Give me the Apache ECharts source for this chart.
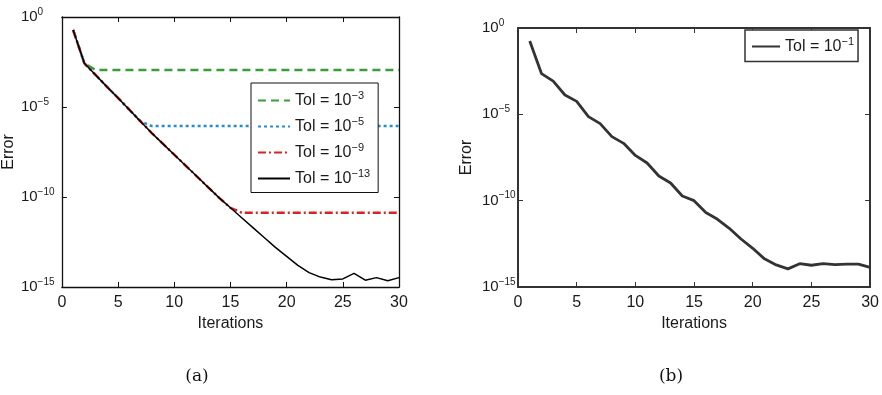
<!DOCTYPE html>
<html>
<head>
<meta charset="utf-8">
<script src="https://cdn.jsdelivr.net/npm/echarts@6/dist/echarts.min.js"></script>
<style>
  html, body { margin: 0; padding: 0; background: #fff; }
  #chart { width: 882px; height: 395px; }
</style>
</head>
<body>
<div id="chart"></div>
<script>
// iteration numbers (x)
const iterations = [1, 2, 3, 4, 5, 6, 7, 8, 9, 10, 11, 12, 13, 14, 15,
  16, 17, 18, 19, 20, 21, 22, 23, 24, 25, 26, 27, 28, 29, 30];

// errors stored as log10(error)
// (a)
const tol3Exp = [-0.72, -2.57, -2.94, -2.94, -2.94, -2.94, -2.94, -2.94, -2.94, -2.94,
  -2.94, -2.94, -2.94, -2.94, -2.94, -2.94, -2.94, -2.94, -2.94, -2.94,
  -2.94, -2.94, -2.94, -2.94, -2.94, -2.94, -2.94, -2.94, -2.94, -2.94];
const tol5Exp = [-0.72, -2.57, -3.22, -3.87, -4.5, -5.15, -5.8, -6.06, -6.06, -6.06,
  -6.06, -6.06, -6.06, -6.06, -6.06, -6.06, -6.06, -6.06, -6.06, -6.06,
  -6.06, -6.06, -6.06, -6.06, -6.06, -6.06, -6.06, -6.06, -6.06, -6.06];
const tol9Exp = [-0.72, -2.57, -3.22, -3.87, -4.5, -5.15, -5.8, -6.45, -7.05, -7.65,
  -8.25, -8.85, -9.45, -10.05, -10.6, -10.87, -10.87, -10.87, -10.87, -10.87,
  -10.87, -10.87, -10.87, -10.87, -10.87, -10.87, -10.87, -10.87, -10.87, -10.87];
const tol13Exp = [-0.72, -2.57, -3.22, -3.87, -4.5, -5.15, -5.8, -6.45, -7.05, -7.65,
  -8.25, -8.85, -9.45, -10.05, -10.6, -11.15, -11.7, -12.25, -12.8, -13.3,
  -13.8, -14.2, -14.45, -14.6, -14.55, -14.24, -14.62, -14.48, -14.65, -14.48];
// (b)
const tol1Exp = [-0.75, -2.64, -3.08, -3.88, -4.25, -5.13, -5.54, -6.29, -6.68, -7.38,
  -7.82, -8.57, -8.98, -9.73, -10.0, -10.69, -11.08, -11.6, -12.22, -12.76,
  -13.37, -13.72, -13.95, -13.65, -13.74, -13.65, -13.7, -13.68, -13.68, -13.86];

const legendExpA = ['\u22123', '\u22125', '\u22129', '\u221213'];
const legendExpB = ['\u22121'];
const yTickExps = [0, -5, -10, -15];

const FONT = '"Liberation Sans", Arial, Helvetica, sans-serif';
const TXT = '#1a1a1a';

const toPoints = exps => iterations.map((it, i) => [it, Math.pow(10, exps[i])]);

const supRich = {
  b: { fontSize: 15, fontFamily: FONT, color: TXT, lineHeight: 20 },
  s: { fontSize: 10, fontFamily: FONT, color: TXT, verticalAlign: 'top' }
};

function yLabel(v) {
  const e = Math.round(Math.log10(v));
  if (yTickExps.indexOf(e) < 0) return '';
  return '{b|10}{s|' + (e < 0 ? '\u2212' + (-e) : String(e)) + '}';
}

function xAxes(grid, color, width) {
  const base = {
    type: 'value', gridIndex: grid, min: 0, max: 30, interval: 5,
    axisLine: { show: true, onZero: false, lineStyle: { color, width } },
    axisTick: { show: true, inside: true, length: 5, lineStyle: { color, width: 1 } },
    splitLine: { show: false }
  };
  return [
    Object.assign({}, base, {
      position: 'bottom',
      axisLabel: { fontSize: 16, fontFamily: FONT, color: TXT, margin: 8 },
      name: 'Iterations', nameLocation: 'middle', nameGap: 23,
      nameTextStyle: { fontSize: 16, fontFamily: FONT, color: TXT }
    }),
    Object.assign({}, base, { position: 'top', axisLabel: { show: false } })
  ];
}

function yAxes(grid, color, width, margin) {
  const base = {
    type: 'log', logBase: 100000, gridIndex: grid, min: 1e-15, max: 1,
    axisLine: { show: true, onZero: false, lineStyle: { color, width } },
    axisTick: { show: true, inside: true, length: 5, lineStyle: { color, width: 1 } },
    minorTick: { show: false },
    splitLine: { show: false }
  };
  return [
    Object.assign({}, base, {
      position: 'left',
      axisLabel: { align: 'left', margin, formatter: yLabel, rich: supRich },
      name: 'Error', nameLocation: 'middle', nameGap: 43, nameRotate: 90,
      nameTextStyle: { fontSize: 16, fontFamily: FONT, color: TXT }
    }),
    Object.assign({}, base, { position: 'right', axisLabel: { show: false } })
  ];
}

const legendRich = {
  b: { fontSize: 16, fontFamily: FONT, color: TXT, lineHeight: 21 },
  s: { fontSize: 11, fontFamily: FONT, color: TXT, verticalAlign: 'top' }
};

const namesA = ['tol3', 'tol5', 'tol9', 'tol13'];
const namesB = ['tol1'];

function line(name, exps, xi, yi, color, width, type) {
  return {
    name, type: 'line', xAxisIndex: xi, yAxisIndex: yi,
    data: toPoints(exps), symbol: 'none', showSymbol: false,
    lineStyle: { color, width, type }, itemStyle: { color },
    emphasis: { disabled: true }, silent: true
  };
}

const chart = echarts.init(document.getElementById('chart'));
chart.setOption({
  animation: false,
  backgroundColor: '#fff',
  grid: [
    { left: 59, top: 17, width: 340, height: 270 },
    { left: 518, top: 28, width: 354, height: 259 }
  ],
  xAxis: xAxes(0, '#111', 1.3).concat(xAxes(1, '#333', 2)),
  yAxis: yAxes(0, '#111', 1.3, 41).concat(yAxes(1, '#333', 2, 36)),
  legend: [
    {
      data: namesA, orient: 'vertical', left: 251, top: 83,
      itemWidth: 32, itemHeight: 12, itemGap: 7.5,
      padding: [7, 8, 6, 6], borderColor: '#111', borderWidth: 1, borderRadius: 0,
      backgroundColor: '#fff', selectedMode: false,
      itemStyle: { opacity: 0 },
      formatter: n => '{b|Tol = 10}{s|' + legendExpA[namesA.indexOf(n)] + '}',
      textStyle: { rich: legendRich }
    },
    {
      data: namesB, orient: 'vertical', left: 745, top: 30,
      itemWidth: 28, itemHeight: 12, itemGap: 5,
      padding: [6, 4, 7, 6], borderColor: '#333', borderWidth: 1.5, borderRadius: 0,
      backgroundColor: '#fff', selectedMode: false,
      itemStyle: { opacity: 0 },
      formatter: n => '{b|Tol = 10}{s|' + legendExpB[namesB.indexOf(n)] + '}',
      textStyle: { rich: legendRich }
    }
  ],
  series: [
    line('tol3', tol3Exp, 0, 0, '#3c9c3c', 2.5, [8, 5]),
    line('tol5', tol5Exp, 0, 0, '#2a8cc8', 2.5, [3, 3]),
    line('tol9', tol9Exp, 0, 0, '#d22626', 2.5, [8, 3, 2, 3]),
    line('tol13', tol13Exp, 0, 0, '#000000', 1.5, 'solid'),
    line('tol1', tol1Exp, 2, 2, '#333333', 2.8, 'solid')
  ],
  graphic: [
    { type: 'text', x: 197, y: 377, style: { text: '(a)', font: '17px "DejaVu Serif", "Liberation Serif", serif', fill: '#111', textAlign: 'center', textVerticalAlign: 'middle' } },
    { type: 'text', x: 671, y: 377, style: { text: '(b)', font: '17px "DejaVu Serif", "Liberation Serif", serif', fill: '#111', textAlign: 'center', textVerticalAlign: 'middle' } }
  ]
});
</script>
</body>
</html>
